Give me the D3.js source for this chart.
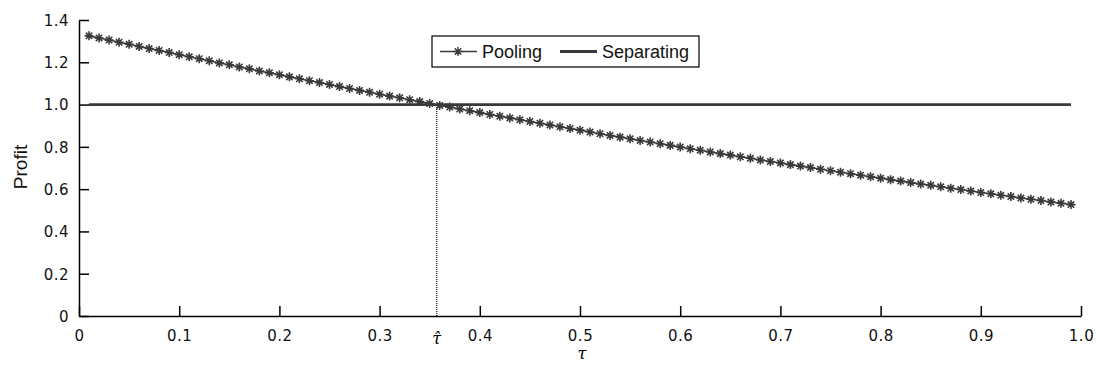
<!DOCTYPE html>
<html>
<head>
<meta charset="utf-8">
<script src="https://cdn.jsdelivr.net/npm/d3@7"></script>
<style>
  body { margin: 0; background: #fff; }
  text { font-family: "Liberation Sans", Arial, Helvetica, sans-serif; }
</style>
</head>
<body>
<div id="chart"></div>
<script>
// data
var tauValues = d3.range(1, 100).map(function (k) { return k / 100; });
var poolingProfit = [
  1.325, 1.315, 1.305, 1.295, 1.285, 1.275, 1.265, 1.256, 1.246, 1.236,
  1.226, 1.217, 1.207, 1.197, 1.188, 1.178, 1.169, 1.159, 1.150, 1.141,
  1.131, 1.122, 1.113, 1.104, 1.095, 1.085, 1.076, 1.067, 1.058, 1.049,
  1.040, 1.032, 1.023, 1.014, 1.005, 0.996, 0.988, 0.979, 0.971, 0.962,
  0.953, 0.945, 0.937, 0.928, 0.920, 0.912, 0.903, 0.895, 0.887, 0.879,
  0.870, 0.862, 0.854, 0.846, 0.838, 0.830, 0.823, 0.815, 0.807, 0.799,
  0.791, 0.784, 0.776, 0.768, 0.761, 0.753, 0.746, 0.738, 0.731, 0.724,
  0.716, 0.709, 0.702, 0.694, 0.687, 0.680, 0.673, 0.666, 0.659, 0.652,
  0.645, 0.638, 0.631, 0.624, 0.618, 0.611, 0.604, 0.598, 0.591, 0.584,
  0.578, 0.571, 0.565, 0.558, 0.552, 0.546, 0.539, 0.533, 0.527
];
var separatingProfit = 1.0;
var tauHat = 0.357;
var xTicks = [0, 0.1, 0.2, 0.3, 0.4, 0.5, 0.6, 0.7, 0.8, 0.9, 1.0];
var yTicks = [0, 0.2, 0.4, 0.6, 0.8, 1.0, 1.2, 1.4];
var seriesNames = ["Pooling", "Separating"];

// set the dimensions and margins of the graph
var margin = { top: 20, right: 15, bottom: 52, left: 79 },
    width = 1096 - margin.left - margin.right,
    height = 368 - margin.top - margin.bottom;

var svg = d3.select("#chart")
    .append("svg")
    .attr("width", width + margin.left + margin.right)
    .attr("height", height + margin.top + margin.bottom)
    .append("g")
    .attr("transform", "translate(" + margin.left + "," + margin.top + ")");

var x = d3.scaleLinear().domain([0, 1]).range([0, 1002]);
var y = d3.scaleLinear().domain([0, 1.4]).range([height, 0]);
var fmt = function (d) { return d === 0 ? "0" : d3.format(".1f")(d); };

var lineColor = "#3a3a3a";

// separating line
svg.append("line")
    .attr("x1", x(tauValues[0]))
    .attr("x2", x(tauValues[tauValues.length - 1]))
    .attr("y1", y(separatingProfit))
    .attr("y2", y(separatingProfit))
    .attr("stroke", lineColor)
    .attr("stroke-width", 2.8);

// dotted line at tau hat
svg.append("line")
    .attr("x1", x(tauHat)).attr("x2", x(tauHat))
    .attr("y1", y(0)).attr("y2", y(separatingProfit))
    .attr("stroke", "#333")
    .attr("stroke-width", 1.4)
    .attr("stroke-dasharray", "1,1");

// pooling line
var line = d3.line()
    .x(function (d, i) { return x(tauValues[i]); })
    .y(function (d) { return y(d); });
svg.append("path")
    .datum(poolingProfit)
    .attr("fill", "none")
    .attr("stroke", lineColor)
    .attr("stroke-width", 1.6)
    .attr("d", line);

// asterisk marker
var r = 4.5, r2 = 3.2;
var starPath = "M" + (-r) + ",0L" + r + ",0M0," + (-r) + "L0," + r +
    "M" + (-r2) + "," + (-r2) + "L" + r2 + "," + r2 +
    "M" + (-r2) + "," + r2 + "L" + r2 + "," + (-r2);

svg.selectAll(".star")
    .data(poolingProfit)
    .enter()
    .append("path")
    .attr("class", "star")
    .attr("transform", function (d, i) { return "translate(" + x(tauValues[i]) + "," + y(d) + ")"; })
    .attr("d", starPath)
    .attr("stroke", lineColor)
    .attr("stroke-width", 1.6)
    .attr("fill", "none");

// axes
var xAxis = svg.append("g")
    .attr("transform", "translate(0," + height + ")")
    .call(d3.axisBottom(x).tickValues(xTicks).tickFormat(fmt).tickSizeInner(-10).tickSizeOuter(0).tickPadding(14));
var yAxis = svg.append("g")
    .call(d3.axisLeft(y).tickValues(yTicks).tickFormat(fmt).tickSizeInner(-10).tickSizeOuter(0).tickPadding(10));

[xAxis, yAxis].forEach(function (a) {
    a.attr("font-size", 15).attr("font-family", "'DejaVu Sans', sans-serif");
    a.select(".domain").attr("stroke", "#000").attr("stroke-width", 1.5);
    a.selectAll(".tick line").attr("stroke", "#000").attr("stroke-width", 1.5);
    a.selectAll(".tick text")
        .attr("fill", "#111")
        .style("font-size", "15px")
        .style("letter-spacing", "0.5px")
        .style("font-family", "'DejaVu Sans', sans-serif");
});
xAxis.selectAll(".tick text").attr("dy", "0.71em");
yAxis.selectAll(".tick text").attr("dy", "0.36em");

// tau hat label
svg.append("text")
    .attr("text-anchor", "middle")
    .attr("x", x(tauHat))
    .attr("y", height + 28)
    .style("font-family", "'DejaVu Serif', 'Liberation Serif', serif")
    .style("font-style", "italic")
    .style("font-size", "16px")
    .text("τ\u0302");

// X axis label
svg.append("text")
    .attr("text-anchor", "middle")
    .attr("x", x(0.502))
    .attr("y", height + 43)
    .style("font-family", "'DejaVu Serif', 'Liberation Serif', serif")
    .style("font-style", "italic")
    .style("font-size", "16px")
    .text("τ");

// Y axis label
svg.append("text")
    .attr("text-anchor", "middle")
    .attr("transform", "rotate(-90)")
    .attr("x", -147)
    .attr("y", -52)
    .style("font-size", "19px")
    .attr("fill", "#111")
    .text("Profit");

// legend
var legend = svg.append("g").attr("transform", "translate(" + (432 - margin.left) + "," + (36 - margin.top) + ")");
legend.append("rect")
    .attr("width", 267).attr("height", 31)
    .attr("fill", "#fff")
    .attr("stroke", "#000")
    .attr("stroke-width", 1.2);
legend.append("line")
    .attr("x1", 8).attr("x2", 45).attr("y1", 15.5).attr("y2", 15.5)
    .attr("stroke", lineColor).attr("stroke-width", 1.5);
legend.append("path")
    .attr("transform", "translate(26,15.5)")
    .attr("d", starPath)
    .attr("stroke", lineColor).attr("stroke-width", 1.4).attr("fill", "none");
legend.append("text")
    .attr("x", 50).attr("y", 21.5)
    .style("font-size", "18px").attr("fill", "#111")
    .text(seriesNames[0]);
legend.append("line")
    .attr("x1", 128).attr("x2", 165).attr("y1", 15.5).attr("y2", 15.5)
    .attr("stroke", lineColor).attr("stroke-width", 2.8);
legend.append("text")
    .attr("x", 170).attr("y", 21.5)
    .style("font-size", "18px").attr("fill", "#111")
    .text(seriesNames[1]);
</script>
</body>
</html>
